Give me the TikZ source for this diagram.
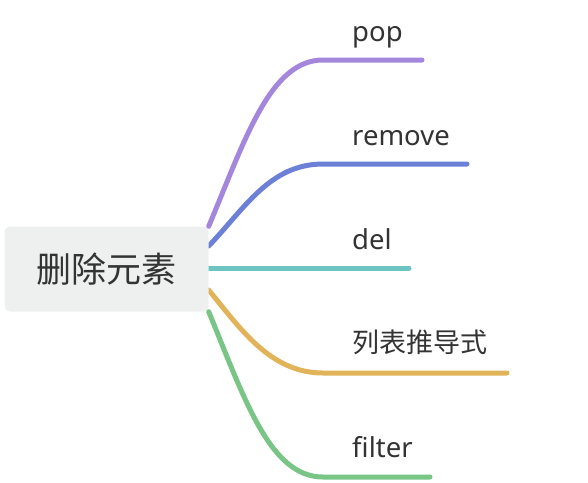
\documentclass[tikz,border=0pt]{standalone}
\usepackage{fontspec}
\setmainfont{Noto Sans}
\newfontfamily\cjk{Noto Sans CJK SC}
\usetikzlibrary{backgrounds,calc}
\definecolor{inkgrey}{HTML}{333333}
\definecolor{rootfill}{HTML}{EEF0EF}
\definecolor{cpop}{HTML}{A487DC}
\definecolor{cremove}{HTML}{6D80D8}
\definecolor{cdel}{HTML}{6CC5C3}
\definecolor{clist}{HTML}{E2B45A}
\definecolor{cfilter}{HTML}{78C585}
\tikzset{
  rootbox/.style={rectangle, rounded corners=6pt, fill=rootfill, text=inkgrey,
    minimum width=204pt, minimum height=85pt, inner sep=0pt,
    font=\cjk\fontsize{35}{40}\selectfont},
  leaf/.style={anchor=base west, inner sep=0pt, text=inkgrey,
    font=\fontsize{27.5}{32}\selectfont},
  leafcjk/.style={leaf, font=\cjk\fontsize{27}{32}\selectfont},
  branch/.style={line width=5pt, line cap=round}
}

\begin{document}
\begin{tikzpicture}[x=1pt, y=-1pt]
			%%%%% START %%%%%
			\useasboundingbox (0, 0) rectangle (588, 482);
			
			\node[rootbox] (root) at (106.5, 269) {删除元素};
			
			\coordinate (pop-in) at (323, 60);
			\coordinate (pop-out) at (422, 60);
			\coordinate (remove-in) at (323, 164);
			\coordinate (remove-out) at (467, 164);
			\coordinate (del-out) at (409, 268);
			\coordinate (list-in) at (323, 373);
			\coordinate (list-out) at (507, 373);
			\coordinate (filter-in) at (323, 477);
			\coordinate (filter-out) at (430, 477);
			
			\node[leaf] (pop) at (352, 41) {pop};
			\node[leaf] (remove) at (352, 145) {remove};
			\node[leaf] (del) at (352, 249) {del};
			\node[leafcjk] (list) at (352, 352) {列表推导式};
			\node[leaf] (filter) at (352, 457) {filter};
			
			\begin{pgfonlayer}{background}
			\draw[branch, cpop] (root.north east) .. controls (245, 140) and (270, 60) .. (pop-in) -- (pop-out);
			\draw[branch, cremove] ($(root.east)+(0,-23)$) .. controls (245, 208) and (270, 164) .. (remove-in) -- (remove-out);
			\draw[branch, cdel] (root.east |- del-out) -- (del-out);
			\draw[branch, clist] ($(root.east)+(0,21)$) .. controls (240, 328) and (270, 373) .. (list-in) -- (list-out);
			\draw[branch, cfilter] (root.south east) .. controls (245, 400) and (270, 477) .. (filter-in) -- (filter-out);
			\end{pgfonlayer}
			
			%%%%% END %%%%%
\end{tikzpicture}
\end{document}
